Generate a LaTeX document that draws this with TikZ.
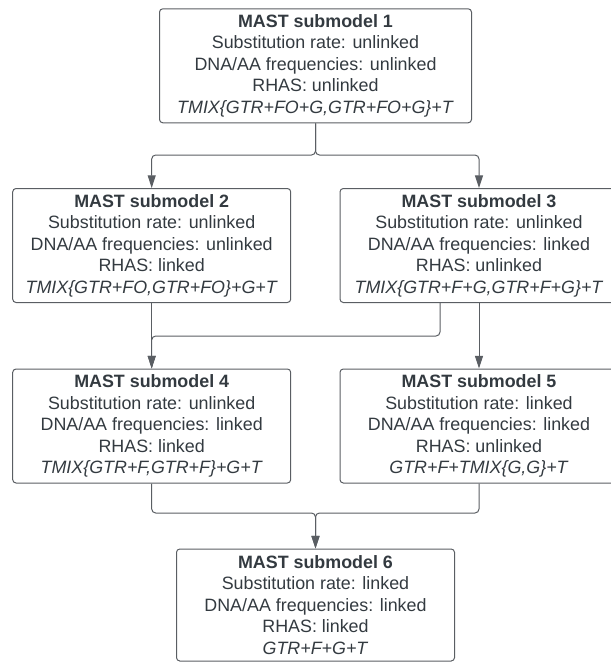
\documentclass[tikz,border=0pt]{standalone}
\usepackage{fontspec}
\setmainfont{Liberation Sans}
\usepackage{tikz}
\usetikzlibrary{shapes, arrows.meta, positioning}
\definecolor{txtgray}{HTML}{333A40}
\definecolor{linegray}{HTML}{5A5E63}
\tikzstyle{mbox} = [rectangle, draw=linegray, line width=0.75pt, rounded corners=2.5pt, text=txtgray, align=center, minimum width=208.5pt, minimum height=85.5pt, inner sep=0pt, font=\fontsize{13.4}{16.1}\selectfont]
\tikzstyle{line} = [draw=linegray, line width=0.75pt, rounded corners=3pt]
\tikzstyle{arrow} = [line, -{Triangle[width=6pt, length=9.5pt]}]
\newcommand{\mtitle}[1]{\textbf{MAST submodel #1}}

\begin{document}
\begin{tikzpicture}[x=0.75pt, y=-0.75pt]
				\useasboundingbox (0,0) rectangle (611,662);
				\node [mbox, minimum width=234pt] (m1) at (315.5, 65.8) {\mtitle{1}\\ Substitution rate: unlinked\\ DNA/AA frequencies: unlinked\\ RHAS: unlinked\\ \textit{TMIX\{GTR+FO+G,GTR+FO+G\}+T}};
				\node [mbox] (m2) at (151.7, 245.5) {\mtitle{2}\\ Substitution rate: unlinked\\ DNA/AA frequencies: unlinked\\ RHAS: linked\\ \textit{TMIX\{GTR+FO,GTR+FO\}+G+T}};
				\node [mbox] (m3) at (479, 245.5) {\mtitle{3}\\ Substitution rate: unlinked\\ DNA/AA frequencies: linked\\ RHAS: unlinked\\ \textit{TMIX\{GTR+F+G,GTR+F+G\}+T}};
				\node [mbox] (m4) at (151.7, 426) {\mtitle{4}\\ Substitution rate: unlinked\\ DNA/AA frequencies: linked\\ RHAS: linked\\ \textit{TMIX\{GTR+F,GTR+F\}+G+T}};
				\node [mbox] (m5) at (479, 426) {\mtitle{5}\\ Substitution rate: linked\\ DNA/AA frequencies: linked\\ RHAS: unlinked\\ \textit{GTR+F+TMIX\{G,G\}+T}};
				\node [mbox, minimum height=84pt] (m6) at (315.5, 605) {\mtitle{6}\\ Substitution rate: linked\\ DNA/AA frequencies: linked\\ RHAS: linked\\ \textit{GTR+F+G+T}};

				\coordinate (split1) at (315.5, 155);
				\coordinate (m3out) at (440, 303);
				\coordinate (join34) at (440, 336);
				\coordinate (join4) at (151.7, 513);
				\coordinate (join5) at (479, 513);

				\path [arrow] (m1.south) -- (split1) -| (m2.north);
				\path [arrow] (m1.south) -- (split1) -| (m3.north);
				\path [arrow] (m2.south) -- (m4.north);
				\path [arrow] (m3out) -- (join34) -| (m4.north);
				\path [arrow] (m3.south) -- (m5.north);
				\path [arrow] (m4.south) -- (join4) -| (m6.north);
				\path [arrow] (m5.south) -- (join5) -| (m6.north);
			\end{tikzpicture}
\end{document}
